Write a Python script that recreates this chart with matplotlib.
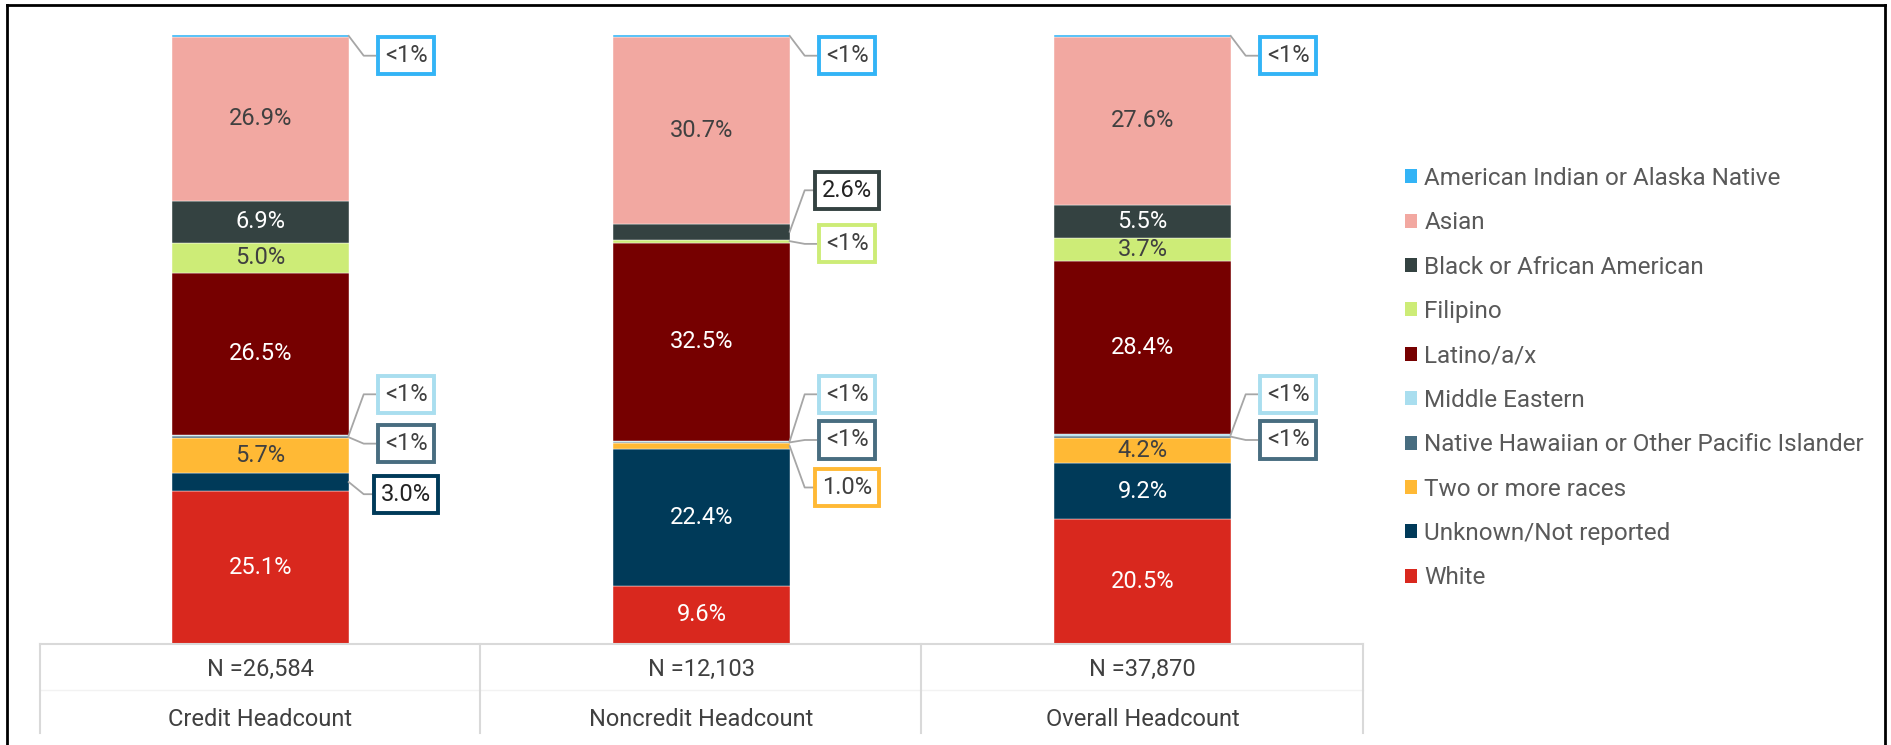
import matplotlib.pyplot as plt
from matplotlib.patches import Patch
from matplotlib.lines import Line2D

plt.rcParams['font.family'] = ['Roboto', 'DejaVu Sans']

groups = ["Credit Headcount", "Noncredit Headcount", "Overall Headcount"]
headcounts = ["N =26,584", "N =12,103", "N =37,870"]

races = ["American Indian or Alaska Native", "Asian", "Black or African American",
         "Filipino", "Latino/a/x", "Middle Eastern",
         "Native Hawaiian or Other Pacific Islander", "Two or more races",
         "Unknown/Not reported", "White"]
colors = ["#33B4F6", "#F2A8A1", "#344241", "#CDEC77", "#760000", "#A9DEEF",
          "#486D80", "#FFB935", "#003A59", "#D9281E"]
text_colors = ["#404040", "#404040", "white", "#404040", "white", "#404040",
               "white", "#404040", "white", "white"]

# percent shares per race, one list per group (race order as above)
credit = [0.3, 26.9, 6.9, 5.0, 26.5, 0.3, 0.3, 5.7, 3.0, 25.1]
noncredit = [0.3, 30.7, 2.6, 0.5, 32.5, 0.2, 0.2, 1.0, 22.4, 9.6]
overall = [0.3, 27.6, 5.5, 3.7, 28.4, 0.3, 0.3, 4.2, 9.2, 20.5]
shares = [credit, noncredit, overall]

# labels drawn outside the bar: (group, race index, text, label height in %)
callouts = [
    (0, 0, "<1%", 96.6), (0, 5, "<1%", 41.0), (0, 6, "<1%", 32.9), (0, 8, "3.0%", 24.6),
    (1, 0, "<1%", 96.6), (1, 2, "2.6%", 74.5), (1, 3, "<1%", 65.7),
    (1, 5, "<1%", 41.0), (1, 6, "<1%", 33.5), (1, 7, "1.0%", 25.7),
    (2, 0, "<1%", 96.6), (2, 5, "<1%", 41.0), (2, 6, "<1%", 33.5),
]

FS = 17
W, H = 1891, 745
fig = plt.figure(figsize=(W / 100, H / 100), dpi=100)
ax = fig.add_axes([40 / W, 1 - 644 / H, (1363 - 40) / W, (644 - 35) / H])

bar_w = 0.4
outside = {(g, r) for g, r, _, _ in callouts}
for g, vals in enumerate(shares):
    total = sum(vals)
    bottom = 0.0
    # stack from the bottom: White first, American Indian last
    for r in reversed(range(len(races))):
        h = vals[r] / total * 100
        ax.bar(g, h, bottom=bottom, width=bar_w, color=colors[r],
               edgecolor="white", linewidth=0.3)
        if (g, r) not in outside and vals[r] >= 1:
            ax.text(g, bottom + h / 2, f"{vals[r]:.1f}%", ha="center", va="center",
                    fontsize=FS, color=text_colors[r])
        bottom += h

# callout labels with leader lines
for g, r, txt, ly in callouts:
    vals = shares[g]
    total = sum(vals)
    below = sum(vals[r + 1:]) / total * 100
    mid = below + vals[r] / total * 100 / 2
    edge = g + bar_w / 2
    ax.plot([edge, edge + 0.034, edge + 0.06], [mid, ly, ly], color="#A6A6A6",
            lw=1.3, clip_on=False, zorder=3)
    ax.text(edge + 0.13, ly, txt, ha="center", va="center", fontsize=FS,
            color="#222222" if r in (2, 8) else "#404040", zorder=4,
            bbox=dict(boxstyle="square,pad=0.3", fc="white", ec=colors[r], lw=2.8))

ax.set_xlim(-0.5, 2.5)
ax.set_ylim(0, 100)
ax.axis("off")

# category table under the bars
grid = "#D9D9D9"
fig.add_artist(Line2D([40 / W, 1363 / W], [1 - 644 / H] * 2, color=grid, lw=1.5))
fig.add_artist(Line2D([40 / W, 1363 / W], [1 - 690 / H] * 2, color="#F2F2F2", lw=1))
for x in [40, 480, 921, 1363]:
    fig.add_artist(Line2D([x / W] * 2, [1 - 644 / H, 1 - 733 / H], color=grid, lw=1.5))
for i, (n, name) in enumerate(zip(headcounts, groups)):
    cx = (40 + 441 * i + 220.5) / W
    fig.text(cx, 1 - 669 / H, n, ha="center", va="center", fontsize=FS, color="#404040")
    fig.text(cx, 1 - 720 / H, name, ha="center", va="center", fontsize=FS, color="#404040")

handles = [Patch(facecolor=c, edgecolor="none") for c in colors]
fig.legend(handles, races, loc="upper left", bbox_to_anchor=(1383 / W, 1 - 145 / H),
           frameon=False, fontsize=17.5, handlelength=0.5, handleheight=0.5,
           handletextpad=0.3, labelspacing=0.88, labelcolor="#595959")

# outer frame
for xs, ys in [([7, 1885], [5, 5]), ([7, 7], [5, 745]), ([1885, 1885], [5, 745])]:
    fig.add_artist(Line2D([x / W for x in xs], [1 - y / H for y in ys], color="black", lw=2))

fig.savefig("out.png", dpi=100)
